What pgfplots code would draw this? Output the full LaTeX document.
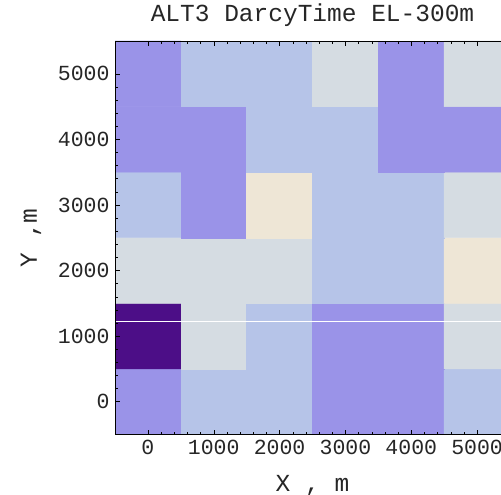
\documentclass[border=0pt]{standalone}
\usepackage{fontspec}
\setmainfont{Liberation Mono}
\usepackage{pgfplots}
\pgfplotsset{compat=1.18}
\begin{document}
\begin{tikzpicture}[x=1bp,y=1bp]
\path[use as bounding box] (-115,-60.5) rectangle (386,434.5);
\begin{axis}[
  at={(0,0)}, anchor=south west,
  scale only axis, width=395bp, height=393.5bp,
  xmin=-500, xmax=5500, ymin=-500, ymax=5500,
  xtick={0,1000,2000,3000,4000,5000},
  ytick={0,1000,2000,3000,4000,5000},
  minor tick num=4,
  tick align=inside,
  major tick length=5bp, minor tick length=3bp,
  tick style={black, line width=0.5bp},
  axis line style={black, line width=0.8bp},
  axis on top,
  /pgf/number format/assume math mode=true,
  /pgf/number format/1000 sep={},
  tick label style={font=\fontsize{21.5bp}{23bp}\selectfont, text=black!85},
  xticklabel style={yshift=-2bp},
  yticklabel style={xshift=-2bp},
  title={ALT3 DarcyTime EL-300m},
  title style={font=\fontsize{24.5bp}{26bp}\selectfont, at={(0.5,1)}, anchor=base, yshift=14bp, text=black!85},
  xlabel={X , m},
  ylabel={Y ,m},
  label style={font=\fontsize{24.5bp}{26bp}\selectfont, text=black!85},
  xlabel style={at={(0.5,0)}, anchor=base, yshift=-57bp},
  ylabel style={at={(axis description cs:-0.1975,0.5)}, anchor=base},
  colormap={cells}{rgb255=(76,14,135) rgb255=(154,147,232) rgb255=(182,196,232) rgb255=(213,220,226) rgb255=(238,230,214)},
  colormap access=direct,
]
\addplot[matrix plot*, mesh/cols=6, point meta=explicit] table[meta=c] {
x y c
0 0 1
1000 0 2
2000 0 2
3000 0 1
4000 0 1
5000 0 2
0 1000 0
1000 1000 3
2000 1000 2
3000 1000 1
4000 1000 1
5000 1000 3
0 2000 3
1000 2000 3
2000 2000 3
3000 2000 2
4000 2000 2
5000 2000 4
0 3000 2
1000 3000 1
2000 3000 4
3000 3000 2
4000 3000 2
5000 3000 3
0 4000 1
1000 4000 1
2000 4000 2
3000 4000 2
4000 4000 1
5000 4000 1
0 5000 1
1000 5000 2
2000 5000 2
3000 5000 3
4000 5000 1
5000 5000 3
};
\addplot[white, line width=1bp] coordinates {(-500,1228) (5500,1228)};
\end{axis}
\end{tikzpicture}
\end{document}
